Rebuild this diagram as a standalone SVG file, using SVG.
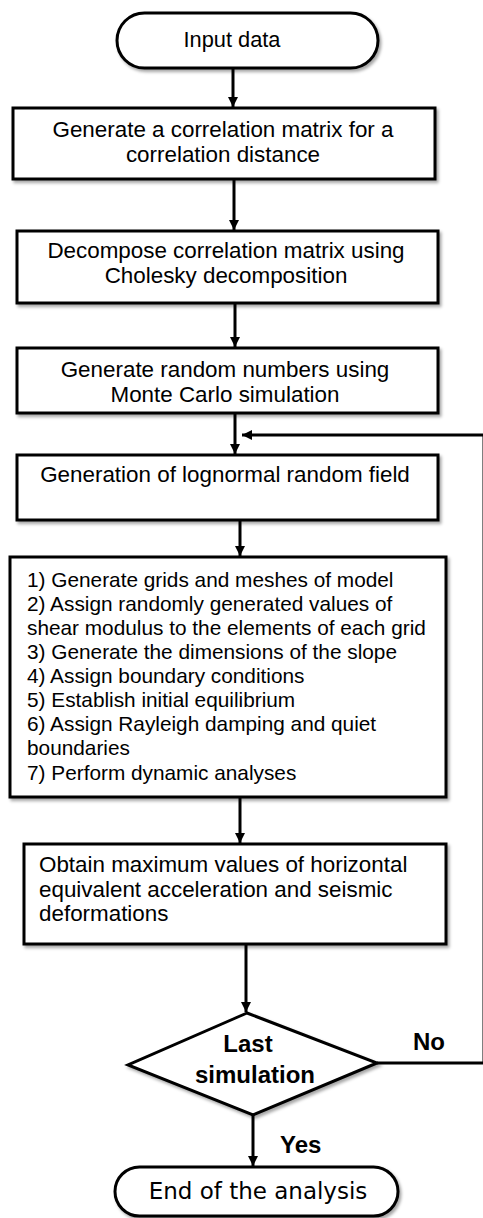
<svg xmlns="http://www.w3.org/2000/svg" width="483" height="1218" viewBox="0 0 483 1218">
  <style>
    .shape { fill: #ffffff; stroke: #000000; stroke-width: 3; filter: url(#shadow); }
    .txt { font-family: "Liberation Sans", Arial, sans-serif; font-size: 22.4px; fill: #000000; }
    .mid { text-anchor: middle; }
    .list { font-size: 20.8px; }
    .bold { font-family: "Liberation Sans", Arial, sans-serif; font-weight: bold; font-size: 24px; fill: #000000; }
    .term { font-family: "DejaVu Sans", Verdana, sans-serif; fill: #000000; }
    .link { fill: none; stroke: #000000; stroke-width: 3; }
  </style>
  <defs>
    <filter id="shadow" x="-10%" y="-10%" width="125%" height="130%">
      <feDropShadow dx="2" dy="2.5" stdDeviation="1.5" flood-color="#000000" flood-opacity="0.35"/>
    </filter>
    <marker id="arrow" viewBox="0 0 10 10" refX="10" refY="5" markerWidth="3.4" markerHeight="3.4" orient="auto" markerUnits="strokeWidth">
      <path d="M0,0 L10,5 L0,10 z" fill="#000000"/>
    </marker>
  </defs>
  <rect width="483" height="1218" fill="#ffffff"/>

  <g id="connectors">
    <line class="link" x1="233" y1="68" x2="233" y2="107" marker-end="url(#arrow)"/>
    <line class="link" x1="234" y1="179" x2="234" y2="230" marker-end="url(#arrow)"/>
    <line class="link" x1="235" y1="303" x2="235" y2="347" marker-end="url(#arrow)"/>
    <line class="link" x1="235" y1="413" x2="235" y2="454" marker-end="url(#arrow)"/>
    <line class="link" x1="240" y1="520" x2="240" y2="556" marker-end="url(#arrow)"/>
    <line class="link" x1="240" y1="797" x2="240" y2="843" marker-end="url(#arrow)"/>
    <line class="link" x1="246" y1="944" x2="246" y2="1012" marker-end="url(#arrow)"/>
    <line class="link" x1="253" y1="1115" x2="253" y2="1166" marker-end="url(#arrow)"/>
    <!-- loop back for the next simulation; the return leg runs along the right edge -->
    <polyline class="link" points="377,1063 484,1063 484,435 242,435" marker-end="url(#arrow)"/>
    <text class="bold" x="413" y="1050">No</text>
    <text class="bold" x="280" y="1153">Yes</text>
  </g>

  <g id="start">
    <rect class="shape" x="117" y="13" width="261" height="55" rx="27.5"/>
    <text class="txt mid" x="232" y="47" style="font-size:21.8px">Input data</text>
  </g>

  <g id="correlation-matrix">
    <rect class="shape" x="13" y="108" width="422" height="71"/>
    <text class="txt mid" x="223" y="137">Generate a correlation matrix for a</text>
    <text class="txt mid" x="223" y="162">correlation distance</text>
  </g>

  <g id="cholesky">
    <rect class="shape" x="17" y="231" width="421" height="72"/>
    <text class="txt mid" x="226" y="258">Decompose correlation matrix using</text>
    <text class="txt mid" x="226" y="283">Cholesky decomposition</text>
  </g>

  <g id="monte-carlo">
    <rect class="shape" x="17" y="348" width="421" height="65"/>
    <text class="txt mid" x="225" y="377">Generate random numbers using</text>
    <text class="txt mid" x="225" y="402">Monte Carlo simulation</text>
  </g>

  <g id="random-field">
    <rect class="shape" x="17" y="455" width="421" height="65"/>
    <text class="txt mid" x="225" y="482">Generation of lognormal random field</text>
  </g>

  <g id="analysis-steps">
    <rect class="shape" x="10" y="557" width="436" height="240"/>
    <text class="txt list" x="27" y="587">1) Generate grids and meshes of model</text>
    <text class="txt list" x="27" y="611">2) Assign randomly generated values of</text>
    <text class="txt list" x="27" y="635">shear modulus to the elements of each grid</text>
    <text class="txt list" x="27" y="659">3) Generate the dimensions of the slope</text>
    <text class="txt list" x="27" y="683">4) Assign boundary conditions</text>
    <text class="txt list" x="27" y="707">5) Establish initial equilibrium</text>
    <text class="txt list" x="27" y="731">6) Assign Rayleigh damping and quiet</text>
    <text class="txt list" x="27" y="755">boundaries</text>
    <text class="txt list" x="27" y="780">7) Perform dynamic analyses</text>
  </g>

  <g id="results">
    <rect class="shape" x="24" y="844" width="422" height="100"/>
    <text class="txt" x="39" y="872">Obtain maximum values of horizontal</text>
    <text class="txt" x="39" y="897">equivalent acceleration and seismic</text>
    <text class="txt" x="39" y="921">deformations</text>
  </g>

  <g id="last-simulation">
    <polygon class="shape" points="247,1013 377,1063 253,1115 128,1065"/>
    <text class="bold mid" x="248" y="1052">Last</text>
    <text class="bold mid" x="255" y="1083">simulation</text>
  </g>

  <g id="end">
    <rect class="shape" x="115" y="1167" width="283" height="49" rx="24.5"/>
    <text class="term mid" x="258" y="1199" style="font-size:23px">End of the analysis</text>
  </g>
</svg>
